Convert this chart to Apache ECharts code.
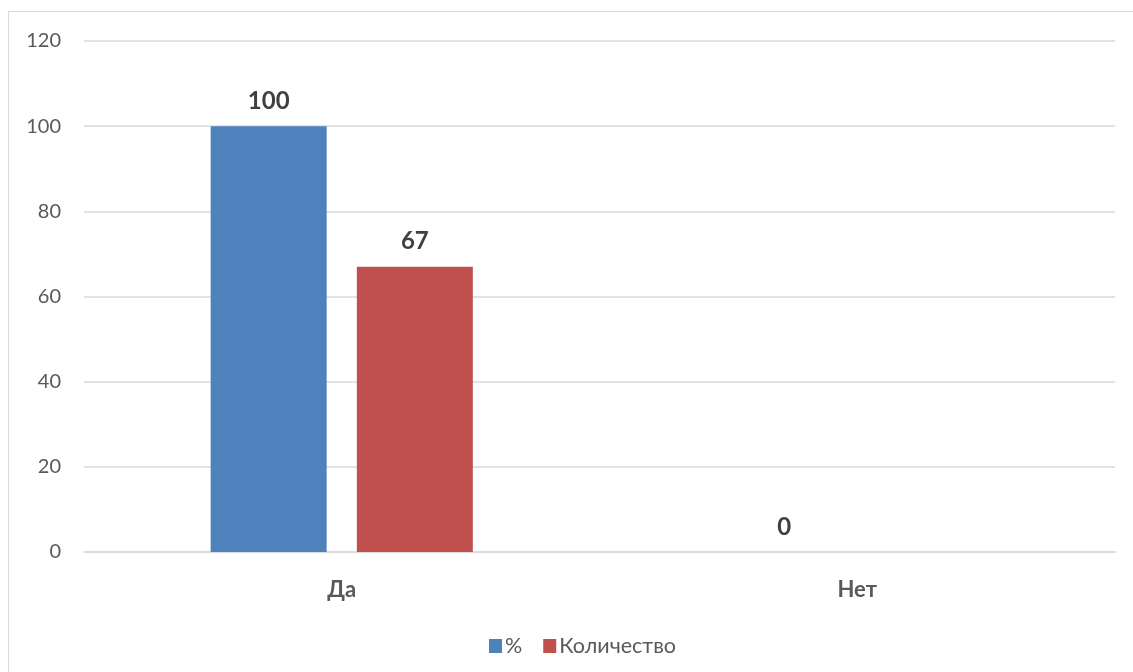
<!DOCTYPE html>
<html>
<head>
<meta charset="utf-8">
<script src="https://cdn.jsdelivr.net/npm/echarts@6/dist/echarts.min.js"></script>
<style>
html,body{margin:0;padding:0;background:#fff;}
#frame{position:absolute;left:8px;top:11px;width:1140px;height:680px;border:1.5px solid #D9D9D9;box-sizing:border-box;}
#chart{position:absolute;left:0;top:0;width:1133px;height:672px;}
</style>
</head>
<body>
<div id="frame"></div>
<div id="chart"></div>
<script>
const categories = ["Да", "Нет"];
const seriesNames = ["%", "Количество"];
const percentValues = [100, 0];
const countValues = [67, null];
const yTicks = [0, 20, 40, 60, 80, 100, 120];

const chart = echarts.init(document.getElementById('chart'), null, {renderer: 'canvas'});
const font = 'Lato, "Open Sans", sans-serif';
const labelStyle = {
  show: true, position: 'top', distance: 13,
  fontFamily: font, fontWeight: 'bold', fontSize: 24, color: '#404040'
};
chart.setOption({
  animation: false,
  textStyle: {fontFamily: font},
  grid: {left: 84, right: 18, top: 41, bottom: 120, containLabel: false},
  legend: {
    data: seriesNames, left: 484, top: 630,
    itemWidth: 13, itemHeight: 14, itemGap: 21,
    textStyle: {fontFamily: font, fontSize: 21.5, color: '#595959', padding: [0, 0, 0, -2]},
    icon: 'rect'
  },
  xAxis: {
    type: 'category', data: categories,
    axisLine: {lineStyle: {color: '#D9D9D9', width: 1.5}},
    axisTick: {show: false},
    axisLabel: {fontFamily: font, fontWeight: 'bold', fontSize: 22, color: '#595959', margin: 27}
  },
  yAxis: {
    type: 'value', min: yTicks[0], max: yTicks[yTicks.length - 1], interval: 20,
    axisLine: {show: false}, axisTick: {show: false},
    axisLabel: {fontFamily: font, fontSize: 20, color: '#595959', margin: 23},
    splitLine: {lineStyle: {color: '#D9D9D9', width: 1.5}}
  },
  series: [
    {name: seriesNames[0], type: 'bar', data: percentValues, barWidth: 116, barGap: '26%',
     itemStyle: {color: '#4F81BD'}, label: labelStyle},
    {name: seriesNames[1], type: 'bar', data: countValues, barWidth: 116,
     itemStyle: {color: '#C0504D'}, label: labelStyle}
  ]
});
</script>
</body>
</html>
